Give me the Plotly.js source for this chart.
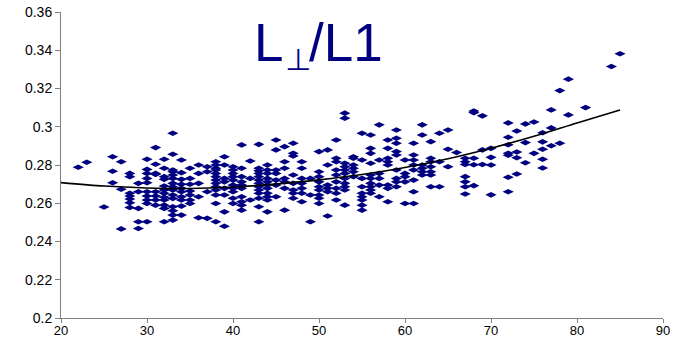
<!DOCTYPE html>
<html>
<head>
<meta charset="utf-8">
<script src="https://cdn.plot.ly/plotly-3.0.1.min.js"></script>
<style>html,body{margin:0;padding:0;background:#fff;}#chart{width:684px;height:339px;}</style>
</head>
<body>
<div id="chart"></div>
<script>
// Age columns and the L⊥/L1 values read at each age
const ages = [22,23,25,26,27,28,29,30,31,32,33,34,35,36,37,38,39,40,41,42,43,44,45,46,47,48,49,50,51,52,53,54,55,56,57,58,59,60,61,62,63,64,65,66,67,68,69,70,72,73,74,75,76,77,78,79,81,84,85];
const ratiosByAge = [
  [0.2788],
  [0.2814],
  [0.2580],
  [0.2843,0.2767,0.2707],
  [0.2817,0.2673,0.2466],
  [0.2756,0.2739,0.2652,0.2638,0.2622,0.2603,0.2578],
  [0.2704,0.2660,0.2573,0.2503,0.2468],
  [0.2830,0.2777,0.2756,0.2730,0.2707,0.2660,0.2638,0.2617,0.2599,0.2503],
  [0.2891,0.2804,0.2756,0.2751,0.2660,0.2638,0.2617,0.2590],
  [0.2830,0.2783,0.2739,0.2725,0.2690,0.2669,0.2652,0.2631,0.2617,0.2590,0.2573,0.2503],
  [0.2966,0.2856,0.2774,0.2765,0.2748,0.2730,0.2704,0.2686,0.2669,0.2643,0.2625,0.2582,0.2561,0.2538,0.2512],
  [0.2826,0.2760,0.2725,0.2699,0.2678,0.2660,0.2634,0.2617,0.2585,0.2538],
  [0.2783,0.2730,0.2699,0.2664,0.2643,0.2617,0.2599],
  [0.2800,0.2756,0.2704,0.2634,0.2524],
  [0.2791,0.2765,0.2660,0.2521],
  [0.2817,0.2800,0.2783,0.2774,0.2756,0.2739,0.2721,0.2704,0.2686,0.2669,0.2643,0.2599,0.2503],
  [0.2843,0.2800,0.2730,0.2712,0.2678,0.2643,0.2555,0.2480],
  [0.2791,0.2774,0.2756,0.2739,0.2721,0.2695,0.2678,0.2660,0.2626,0.2599],
  [0.2905,0.2783,0.2739,0.2712,0.2695,0.2678,0.2634,0.2608,0.2590,0.2564],
  [0.2821,0.2730,0.2617],
  [0.2908,0.2783,0.2770,0.2756,0.2739,0.2721,0.2704,0.2686,0.2669,0.2652,0.2626,0.2582,0.2503],
  [0.2800,0.2774,0.2756,0.2730,0.2712,0.2695,0.2678,0.2652,0.2634,0.2617,0.2555],
  [0.2931,0.2879,0.2774,0.2756,0.2721,0.2695,0.2634],
  [0.2896,0.2817,0.2783,0.2730,0.2712,0.2678,0.2564],
  [0.2914,0.2861,0.2847,0.2748,0.2704,0.2669,0.2652,0.2626],
  [0.2817,0.2783,0.2730,0.2704,0.2678,0.2652,0.2608],
  [0.2730,0.2643,0.2503],
  [0.2870,0.2765,0.2739,0.2712,0.2686,0.2669,0.2643,0.2626,0.2599],
  [0.2879,0.2800,0.2695,0.2678,0.2660,0.2533],
  [0.2931,0.2835,0.2817,0.2774,0.2748,0.2712,0.2678,0.2652,0.2617],
  [0.3071,0.3045,0.2809,0.2791,0.2774,0.2756,0.2730,0.2704,0.2686,0.2669,0.2590],
  [0.2843,0.2835,0.2800,0.2783,0.2765,0.2739],
  [0.2966,0.2826,0.2730,0.2686,0.2652,0.2634,0.2617,0.2590,0.2564],
  [0.2957,0.2887,0.2861,0.2809,0.2748,0.2730,0.2704,0.2686,0.2669,0.2652],
  [0.3010,0.2826,0.2756,0.2730,0.2695,0.2634],
  [0.2931,0.2887,0.2835,0.2817,0.2800,0.2695,0.2678,0.2608],
  [0.2983,0.2940,0.2914,0.2870,0.2852,0.2774,0.2730,0.2712,0.2686],
  [0.2826,0.2756,0.2739,0.2712,0.2599],
  [0.2914,0.2852,0.2826,0.2800,0.2774,0.2721,0.2660,0.2599],
  [0.3010,0.2957,0.2800,0.2783,0.2765,0.2748],
  [0.2922,0.2835,0.2817,0.2791,0.2765,0.2748,0.2686],
  [0.2966,0.2817,0.2686],
  [0.2983,0.2882,0.2791],
  [0.2865],
  [0.2835,0.2817,0.2803,0.2739,0.2712,0.2686,0.2648],
  [0.3082,0.3074,0.2835,0.2801,0.2692],
  [0.3057,0.2879,0.2803],
  [0.2887,0.2840,0.2800,0.2644],
  [0.3020,0.2945,0.2906,0.2861,0.2851,0.2736,0.2660],
  [0.2978,0.2868,0.2838,0.2753],
  [0.3015,0.2917,0.2812],
  [0.3025,0.2861],
  [0.2969,0.2921,0.2882,0.2830,0.2784],
  [0.3088,0.2994,0.2901],
  [0.3189,0.2914],
  [0.3249,0.3062],
  [0.3100],
  [0.3315],
  [0.3382]
];
// Trend line values
const trendAges = [20,25,30,35,40,45,50,55,60,65,70,75,80,85];
const trendRatios = [0.2708,0.2690,0.2680,0.2677,0.2685,0.2700,0.2722,0.2750,0.2787,0.2833,0.2888,0.2950,0.3020,0.3088];
const xTicks = [20,30,40,50,60,70,80,90];
const yTicks = [0.2,0.22,0.24,0.26,0.28,0.3,0.32,0.34,0.36];

const px = [], py = [];
ages.forEach((a, i) => ratiosByAge[i].forEach(v => { px.push(a); py.push(v); }));

const navy = '#000080';
const yTickFont = {family: 'Liberation Sans, Arial, sans-serif', size: 14, color: '#000'};
const xTickFont = {family: 'Liberation Sans, Arial, sans-serif', size: 13, color: '#000'};
const titleFont = {family: 'Liberation Sans, Arial, sans-serif', size: 53, color: navy};

const data = [
  {type: 'scatter', mode: 'markers', x: px, y: py,
   marker: {symbol: 'diamond-wide', size: 8, color: navy, line: {width: 0}}, hoverinfo: 'skip'},
  {type: 'scatter', mode: 'lines', x: trendAges, y: trendRatios,
   line: {color: '#000', width: 1.6, shape: 'spline', smoothing: 0.8}, hoverinfo: 'skip'}
];

const layout = {
  width: 684, height: 339,
  margin: {l: 61, r: 21, t: 12, b: 21},
  paper_bgcolor: '#fff', plot_bgcolor: '#fff',
  showlegend: false,
  xaxis: {range: [20, 90], tickvals: xTicks, ticktext: xTicks.map(String), ticks: 'outside', ticklen: 4, tickcolor: '#808080',
          ticklabelstandoff: -4,
          showline: true, linecolor: '#808080', linewidth: 1, showgrid: false, zeroline: false, tickfont: xTickFont, automargin: false},
  yaxis: {range: [0.2, 0.36], tickvals: yTicks, ticktext: yTicks.map(String), ticks: 'outside', ticklen: 5, tickcolor: '#808080',
          showline: true, linecolor: '#808080', linewidth: 1, showgrid: false, zeroline: false, tickfont: yTickFont, automargin: false},
  annotations: [
    {text: 'L', xref: 'paper', yref: 'paper', x: 0.3173, y: 0.797, xanchor: 'left', yanchor: 'bottom', showarrow: false, font: titleFont},
    {text: '⊥', xref: 'paper', yref: 'paper', x: 0.3937, y: 0.781, xanchor: 'center', yanchor: 'bottom', showarrow: false,
     font: {family: 'DejaVu Sans, sans-serif', size: 30, color: navy}},
    {text: '/L1', xref: 'paper', yref: 'paper', x: 0.4086, y: 0.797, xanchor: 'left', yanchor: 'bottom', showarrow: false, font: titleFont}
  ]
};

Plotly.newPlot('chart', data, layout, {staticPlot: true, displayModeBar: false});
</script>
</body>
</html>
